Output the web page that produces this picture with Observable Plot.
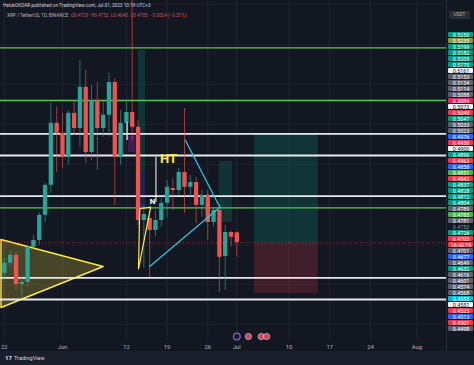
<!DOCTYPE html>
<html><head><meta charset="utf-8">
<script src="https://cdn.jsdelivr.net/npm/d3@7"></script>
<script src="https://cdn.jsdelivr.net/npm/@observablehq/plot@0.6"></script>
<style>
html,body{margin:0;padding:0;background:#131722;}
#wrap{position:relative;width:474px;height:365px;overflow:hidden;background:#131722;font-family:Roboto,"Liberation Sans",sans-serif;}
#main{position:absolute;left:0;top:0;}
#axis{position:absolute;left:446px;top:0;width:28px;height:351px;border-left:1px solid #2a2e39;box-sizing:border-box;}
#axisplot{position:absolute;left:446px;top:0;}
.h1{position:absolute;left:3px;top:3px;font-size:4.7px;color:#d1d4dc;white-space:nowrap;}
.h2{position:absolute;left:7px;top:13px;font-size:4.7px;color:#b2b5be;white-space:nowrap;}
.h2 span{color:#d0505c;}
#usdt{position:absolute;left:449px;top:11px;width:21px;height:8px;background:#2a2e39;color:#b2b5be;font-size:4.6px;line-height:8px;text-align:center;border-radius:1px;}
#foot{position:absolute;left:0;top:351px;width:474px;height:14px;background:#1b1f2b;color:#d1d4dc;font-size:5.6px;line-height:14px;}
#foot b{font-weight:900;margin-left:5px;margin-right:2px;font-size:6px;}
</style></head>
<body><div id="wrap">
<div id="axis"></div>
<div id="main"></div>
<div id="axisplot"></div>
<div class="h1">HalukOKDAR published on TradingView.com, Jul 01, 2023 10:19 UTC+3</div>
<div class="h2">XRP / TetherUS, 1D, BINANCE &nbsp;<span>O0.4729 &nbsp;H0.4732 &nbsp;L0.4640 &nbsp;C0.4705 &nbsp;−0.0024 (−0.51%)</span></div>
<div id="usdt">USDT</div>
<div id="foot"><b>17</b>TradingView</div>
</div>
<script>
// ---- candle data (XRP/USDT daily) ----
const dates = ["2023-05-22","2023-05-23","2023-05-24","2023-05-25","2023-05-26","2023-05-27","2023-05-28","2023-05-29","2023-05-30","2023-05-31",
"2023-06-01","2023-06-02","2023-06-03","2023-06-04","2023-06-05","2023-06-06","2023-06-07","2023-06-08","2023-06-09","2023-06-10",
"2023-06-11","2023-06-12","2023-06-13","2023-06-14","2023-06-15","2023-06-16","2023-06-17","2023-06-18","2023-06-19","2023-06-20",
"2023-06-21","2023-06-22","2023-06-23","2023-06-24","2023-06-25","2023-06-26","2023-06-27","2023-06-28","2023-06-29","2023-06-30","2023-07-01"];
const open  = [0.4628,0.4653,0.4673,0.4600,0.4605,0.4693,0.4710,0.4773,0.4848,0.5003,0.4978,0.4918,0.5028,0.4990,0.5093,0.4930,0.5060,0.4990,0.5023,0.5105,0.4918,0.5003,0.5030,0.4993,0.4760,0.4765,0.4735,0.4760,0.4803,0.4840,0.4835,0.4880,0.4843,0.4855,0.4798,0.4823,0.4755,0.4785,0.4670,0.4730,0.4729];
const high  = [0.4665,0.4685,0.4680,0.4618,0.4698,0.4723,0.4780,0.4853,0.5053,0.5043,0.5028,0.5035,0.5060,0.5160,0.5135,0.5098,0.5105,0.5060,0.5128,0.5115,0.5035,0.5060,0.5330,0.5010,0.4798,0.4780,0.4785,0.4815,0.4860,0.4865,0.4890,0.5040,0.4873,0.4868,0.4835,0.4835,0.4793,0.4798,0.4748,0.4733,0.4732];
const low   = [0.4615,0.4645,0.4585,0.4565,0.4593,0.4685,0.4698,0.4755,0.4828,0.4880,0.4890,0.4898,0.4973,0.4943,0.4903,0.4910,0.4885,0.4968,0.4968,0.4798,0.4898,0.4960,0.4960,0.4748,0.4640,0.4618,0.4718,0.4743,0.4768,0.4785,0.4823,0.4778,0.4818,0.4753,0.4768,0.4710,0.4743,0.4580,0.4585,0.4693,0.4668];
const close = [0.4653,0.4673,0.4600,0.4605,0.4693,0.4710,0.4773,0.4848,0.5003,0.4978,0.4918,0.5028,0.4990,0.5093,0.4930,0.5060,0.4990,0.5023,0.5105,0.4918,0.5003,0.5030,0.4993,0.4760,0.4775,0.4735,0.4760,0.4803,0.4843,0.4835,0.4880,0.4843,0.4855,0.4798,0.4823,0.4755,0.4785,0.4668,0.4730,0.4718,0.4705];
const lastPrice = 0.4705;

// ---- drawings ----
const whiteLevels = [0.49768, 0.49225, 0.48208, 0.46168, 0.45625];
const greenLevels = [0.51918, 0.50600, 0.47918];
const bigTriDates = ["2023-05-21T10:00","2023-06-08T00:00","2023-05-21T10:00","2023-05-21T10:00"];
const bigTriPrices = [0.47125, 0.46450, 0.45425, 0.47125];
const smallTriDates = ["2023-06-14T02:00","2023-06-14T07:00","2023-06-16T04:00","2023-06-14T02:00"];
const smallTriPrices = [0.46393, 0.47893, 0.47933, 0.46393];
const cyanA = {dates:["2023-06-22T04:00","2023-06-28T02:00"], prices:[0.49600,0.47933]};
const cyanB = {dates:["2023-06-16T00:00","2023-06-28T02:00"], prices:[0.46450,0.47933]};
const boxes = [
  {x1:"2023-07-04T01:00", x2:"2023-07-15T01:00", lo:0.47025, hi:0.49775, fill:"#089981", op:0.22},
  {x1:"2023-07-04T01:00", x2:"2023-07-15T01:00", lo:0.45775, hi:0.47025, fill:"#f23645", op:0.20},
  {x1:"2023-06-28T00:00", x2:"2023-06-30T06:00", lo:0.47550, hi:0.49075, fill:"#089981", op:0.22},
  {x1:"2023-06-14T02:00", x2:"2023-06-15T07:00", lo:0.48800, hi:0.51850, fill:"#089981", op:0.22},
  {x1:"2023-06-14T02:00", x2:"2023-06-15T07:00", lo:0.47925, hi:0.48800, fill:"#2962ff", op:0.22},
  {x1:"2023-06-12T08:00", x2:"2023-06-13T13:00", lo:0.49300, hi:0.49700, fill:"#9c27b0", op:0.35}
];
const whiteMarks = [
  {d:"2023-06-17T02:00", y1:0.49175, y2:0.48050},
  {d:"2023-06-12T03:00", y1:0.50050, y2:0.49600}
];
const labelsText = [
  {d:"2023-06-19T06:00", p:0.49150, t:"HT", c:"#ffeb3b", s:13},
  {d:"2023-06-16T12:00", p:0.48075, t:"N", c:"#ffffff", s:8}
];
const eventDates = ["2023-07-03T00:00","2023-07-05T05:00","2023-07-06T03:00"];
const eventY = 0.4470;

// ---- time axis ----
const tickDates = ["2023-05-22","2023-06-01","2023-06-12","2023-06-19","2023-06-26","2023-07-01","2023-07-10","2023-07-17","2023-07-24","2023-08-01"];
const tickLabels = ["22","Jun","12","19","26","Jul","10","17","24","Aug"];

// ---- price-axis label stack ----
const axisValues = ["0.5250","0.5235","0.5199","0.5182","0.5205","0.5170","0.5161","0.5153","0.5134","0.5114","0.5088","0.5084","0.5073","0.5048","0.5047","0.5033","0.5023","0.4976","0.4930","0.4900","0.4896","0.4863","0.4858","0.4851","0.4842","0.4837","0.4828","0.4812","0.4804","0.4789","0.4783","0.4781","0.4750","0.4726","0.4705","16:40:19","0.4701","0.4677","0.4649","0.4632","0.4616","0.4601","0.4574","0.4568","0.4535","0.4551","0.4525","0.4513","0.4507","0.4498"];
const axisKinds  = ["teal","olive","teal","teal","teal","teal","white","gray","gray","gray","gray","pink","white","red","teal","gray","gray","blue","red","white","teal","red","blue","green","red","teal","teal","teal","teal","gray","green","gray","none","teal","red","red","gray","blue","gray","teal","gray","gray","gray","gray","cyan","white","red","blue","red","gray"];

const kindBg = {teal:"#089981",olive:"#8a9a3a",white:"#f0f3fa",gray:"#5d606b",pink:"#e91e63",red:"#f23645",blue:"#2962ff",green:"#4caf50",cyan:"#00bcd4",none:"#131722"};
const kindFg = {white:"#131722",none:"#9598a1"};

const P = d => new Date(d + (d.length === 10 ? "T00:00Z" : "Z"));
const candles = dates.map((d, i) => ({date: P(d), o: open[i], h: high[i], l: low[i], c: close[i], up: close[i] >= open[i]}));
const G = "#26a69a", R = "#ef5350";

const main = Plot.plot({
  width: 474, height: 365,
  marginLeft: 0, marginRight: 28, marginTop: 0, marginBottom: 25,
  style: {background: "transparent", color: "#b2b5be", fontFamily: "Roboto, sans-serif", fontSize: "5.8px"},
  x: {type: "utc", domain: [new Date(Date.UTC(2023,4,21,8)), new Date(Date.UTC(2023,7,6,2))],
      ticks: tickDates.map(P), tickFormat: d => tickLabels[tickDates.map(P).findIndex(t => +t === +d)],
      tickSize: 0, tickPadding: 4, label: null, line: false},
  y: {domain: [0.446, 0.531], axis: null},
  marks: [
    Plot.ruleX(tickDates.map(P), {stroke: "#232734", strokeWidth: 1}),
    Plot.ruleY(d3.ticks(0.45, 0.53, 8), {stroke: "#1c202b", strokeWidth: 1}),
    Plot.rect(boxes, {x1: d => P(d.x1), x2: d => P(d.x2), y1: "lo", y2: "hi", fill: "fill", fillOpacity: "op"}),
    Plot.line(bigTriDates.map((d, i) => ({d: P(d), p: bigTriPrices[i]})), {x: "d", y: "p", fill: "#ffeb3b", fillOpacity: 0.22, stroke: "#ffeb3b", strokeWidth: 1.4}),
    Plot.ruleY([lastPrice], {stroke: "#f23645", strokeOpacity: 0.55, strokeDasharray: "1,2"}),
    Plot.ruleY(whiteLevels, {stroke: "#e8e9ee", strokeWidth: 1.8}),
    Plot.ruleY(greenLevels, {stroke: "#5cc65a", strokeWidth: 1.3}),
    Plot.ruleX(candles, {x: "date", y1: "l", y2: "h", stroke: d => d.up ? G : R, strokeWidth: 0.9, strokeOpacity: 0.7, clip: true}),
    Plot.ruleX(candles, {x: "date", y1: "o", y2: "c", stroke: d => d.up ? G : R, strokeWidth: 4.3}),
    Plot.line(smallTriDates.map((d, i) => ({d: P(d), p: smallTriPrices[i]})), {x: "d", y: "p", stroke: "#ffeb3b", strokeWidth: 1.2}),
    Plot.line(cyanA.dates.map((d, i) => ({d: P(d), p: cyanA.prices[i]})), {x: "d", y: "p", stroke: "#2ec4e0", strokeWidth: 1.3}),
    Plot.line(cyanB.dates.map((d, i) => ({d: P(d), p: cyanB.prices[i]})), {x: "d", y: "p", stroke: "#2ec4e0", strokeWidth: 1.3}),
    Plot.ruleX(whiteMarks, {x: d => P(d.d), y1: "y1", y2: "y2", stroke: "#ffffff", strokeWidth: 1}),
    Plot.text(labelsText, {x: d => P(d.d), y: "p", text: "t", fill: "c", fontSize: "s", fontWeight: "bold"}),
    Plot.dot([eventDates[0]].map(P), {x: d => P("2023-07-01"), y: () => eventY, r: 3.4, stroke: "#8e5bd6", strokeWidth: 1.2, fill: "#1e1b33"}),
    Plot.dot(eventDates.map(P), {x: d => d, y: () => eventY, r: 3.1, fill: "#c8485a", stroke: "#e8e8ee", strokeWidth: 0.6})
  ]
});
document.getElementById("main").appendChild(main);

const axisData = axisValues.map((v, i) => ({k: String(i), t: v, bg: kindBg[axisKinds[i]], fg: kindFg[axisKinds[i]] || "#ffffff"}));
const axisPlot = Plot.plot({
  width: 28, height: 351, margin: 0,
  style: {background: "transparent", fontFamily: "Roboto, sans-serif"},
  x: {domain: ["a"], range: [2, 27], padding: 0, axis: null},
  y: {domain: axisData.map(d => d.k), range: [21, 343], padding: 0.1, axis: null},
  marks: [
    Plot.cell(axisData, {x: () => "a", y: "k", fill: "bg", rx: 1}),
    Plot.text(axisData, {x: () => "a", y: "k", text: "t", fill: "fg", fontSize: 5.4})
  ]
});
document.getElementById("axisplot").appendChild(axisPlot);
</script>
</body></html>
